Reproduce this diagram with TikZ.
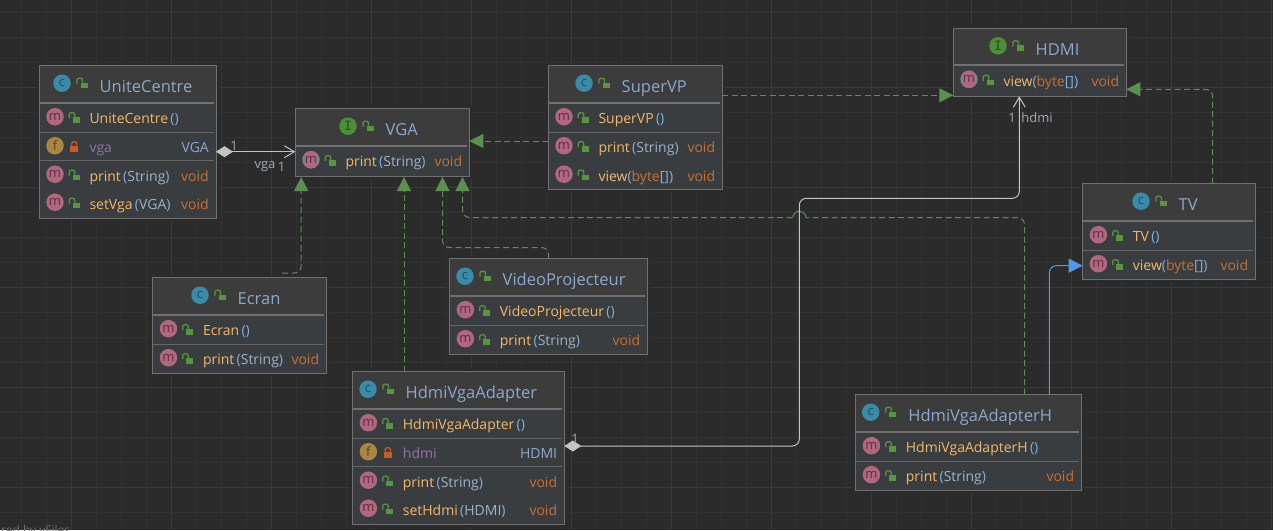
\documentclass[tikz,border=0pt]{standalone}
\usepackage{fontspec}
\setmainfont{Open Sans}
\newfontfamily\slabfont{DejaVu Sans Mono}
\usetikzlibrary{arrows.meta}

\definecolor{canvas}{HTML}{2B2B2B}
\definecolor{gridminor}{HTML}{323232}
\definecolor{gridmajor}{HTML}{3A3A3A}
\definecolor{headfill}{HTML}{3C3C3C}
\definecolor{rowfill}{HTML}{3A3D40}
\definecolor{boxline}{HTML}{707070}
\definecolor{rowline}{HTML}{666666}
\definecolor{titlecol}{HTML}{8CA8CC}
\definecolor{methodcol}{HTML}{F5B868}
\definecolor{parencol}{HTML}{7FB0E0}
\definecolor{argcol}{HTML}{9DB2C8}
\definecolor{typecol}{HTML}{C8702F}
\definecolor{fieldcol}{HTML}{8F73A8}
\definecolor{labelcol}{HTML}{A2A9B0}
\definecolor{lockgreen}{HTML}{56963F}
\definecolor{lockred}{HTML}{C75B2A}
\definecolor{realgreen}{HTML}{5B9150}
\definecolor{assocgrey}{HTML}{C4C4C4}
\definecolor{assocblue}{HTML}{5297E8}
\definecolor{iconcfill}{HTML}{3A8BA8}
\definecolor{iconcdark}{HTML}{1D4E63}
\definecolor{iconifill}{HTML}{4E8E38}
\definecolor{iconidark}{HTML}{274F1C}
\definecolor{iconmfill}{HTML}{B0677F}
\definecolor{iconmdark}{HTML}{5E2E40}
\definecolor{iconffill}{HTML}{A98742}
\definecolor{iconfdark}{HTML}{57431C}
\definecolor{iconafill}{HTML}{7C8185}

\tikzset{
    classbody/.style={draw=boxline, fill=headfill, line width=1pt, anchor=north west, inner sep=0pt, outer sep=0pt},
    titletext/.style={anchor=west, inner sep=0pt, text=titlecol, font=\fontsize{16.5}{18}\selectfont, text height=11.5pt, text depth=3.5pt},
    membertext/.style={anchor=west, inner sep=0pt, text=methodcol, font=\fontsize{14}{16}\selectfont, text height=10pt, text depth=3.5pt},
    typetext/.style={anchor=east, inner sep=0pt, text=typecol, font=\fontsize{14}{16}\selectfont, text height=10pt, text depth=3.5pt},
    edgetext/.style={inner sep=0pt, text=labelcol, font=\fontsize{13}{15}\selectfont},
    iconbase/.style={circle, inner sep=0pt, minimum size=17.5pt, font=\fontsize{13}{13}\selectfont},
    iconc/.style={iconbase, fill=iconcfill, text=iconcdark},
    iconi/.style={iconbase, fill=iconifill, text=iconidark},
    iconm/.style={iconbase, fill=iconmfill, text=iconmdark},
    iconf/.style={iconbase, fill=iconffill, text=iconfdark},
    iconabs/.style={iconbase, fill=iconafill, text=iconmdark, path picture={\fill[iconmfill, rounded corners=2pt] ([xshift=-5.5pt,yshift=-9pt]path picture bounding box.center) rectangle ([xshift=5.5pt,yshift=9pt]path picture bounding box.center);}},
    realline/.style={draw=realgreen, line width=1pt, dash pattern=on 6pt off 3.5pt, rounded corners=7pt},
    realizes/.style={realline, -{Triangle[length=14pt,width=14pt,fill=realgreen]}},
    holds/.style={draw=assocgrey, line width=1pt, rounded corners=7pt, {Diamond[length=17pt,width=11pt,fill=assocgrey]}-{Straight Barb[length=10pt,width=12pt]}},
    extendsto/.style={draw=assocblue, line width=1pt, rounded corners=7pt, -{Triangle[length=14pt,width=14pt,fill=assocblue]}},
    lockopen/.pic={
        \fill[lockgreen] (-1.5,-0.5) rectangle (5.5,5);
        \draw[lockgreen, line width=1.3pt, rounded corners=2pt] (-5,0.5) -- (-5,-5) -- (0.5,-5) -- (0.5,-0.5);
    },
    lockshut/.pic={
        \fill[lockred] (-4,-1) rectangle (4,5);
        \draw[lockred, line width=1.3pt, rounded corners=2pt] (-2.5,-1) -- (-2.5,-5) -- (2.5,-5) -- (2.5,-1);
    }
}

% id, x, y, width, height, icon style, icon letter, icon x, title
\newcommand{\umlclass}[9]{
    \fill[canvas] (#2-3,#3-3) rectangle (#2+#4+3,#3+#5+3);
    \node[classbody, minimum width=#4pt, minimum height=#5pt] (#1) at (#2,#3) {};
    \fill[rowfill] ([shift={(0.5pt,-37pt)}]#1.north west) rectangle ([shift={(-0.5pt,0.5pt)}]#1.south east);
    \fill[boxline] ([shift={(0.5pt,-36pt)}]#1.north west) rectangle ([shift={(-2pt,-38pt)}]#1.north east);
    \node[#6] (#1icon) at (#8,#3+17.5) {#7};
    \pic at (#8+20,#3+17.5) {lockopen};
    \node[titletext] (#1title) at (#8+37.5,#3+23) {#9};
}
% box, row, icon style, icon letter, lock, text, type on the right
\newcommand{\umlmember}[7]{
    \pgfmathsetmacro\rowy{{51,80,108.5,136.5}[#2-1]}
    \node[#3] (#1icon#2) at ([shift={(15.7pt,-\rowy pt)}]#1.north west) {#4};
    \pic at ([shift={(35pt,-\rowy-1 pt)}]#1.north west) {#5};
    \node[membertext] (#1text#2) at ([shift={(50pt,-\rowy-4 pt)}]#1.north west) {#6};
    \if\relax\detokenize{#7}\relax\else
        \node[typetext] (#1type#2) at ([shift={(-7pt,-\rowy-4 pt)}]#1.north east) {#7};
    \fi
}
\newcommand{\umlrule}[2]{
    \draw[rowline, line width=1pt] ([shift={(0.5pt,-#2pt)}]#1.north west) -- ([shift={(-2pt,-#2pt)}]#1.north east);
}
\newcommand{\prm}[1]{\textcolor{parencol}{\,(}\textcolor{argcol}{#1}\textcolor{parencol}{)}}
\newcommand{\noprm}{\textcolor{parencol}{\,()}}
\newcommand{\bytes}{\textcolor{parencol}{(}\textcolor{typecol}{byte}\textcolor{parencol}{[])}}

\begin{document}
\begin{tikzpicture}[x=1pt, y=-1pt]
    \useasboundingbox (0,0) rectangle (1273,530);
    \fill[canvas] (0,0) rectangle (1273,530);

    \foreach \x in {0, ..., 51}
        \draw[gridminor, line width=1pt] (-3.5+25*\x,0) -- (-3.5+25*\x,530);
    \foreach \y in {0, ..., 21}
        \draw[gridminor, line width=1pt] (0,12+25*\y) -- (1273,12+25*\y);
    \foreach \x in {0, ..., 12}
        \draw[gridmajor, line width=1pt] (71.5+100*\x,0) -- (71.5+100*\x,530);
    \foreach \y in {0, ..., 4}
        \draw[gridmajor, line width=1pt] (0,87+100*\y) -- (1273,87+100*\y);

    \node[anchor=west, inner sep=0pt, text=gray!80!canvas, font=\fontsize{12}{14}\selectfont] (yfiles) at (1,531) {red by yFiles};

    \umlclass{unite}{39.3}{65.7}{176.7}{152.3}{iconc}{c}{62}{UniteCentre}
    \umlmember{unite}{1}{iconm}{m}{lockopen}{UniteCentre\noprm}{}
    \umlmember{unite}{2}{iconf}{f}{lockshut}{\textcolor{fieldcol}{vga}}{\textcolor{titlecol}{VGA}}
    \umlmember{unite}{3}{iconm}{m}{lockopen}{print\prm{String}}{void}
    \umlmember{unite}{4}{iconm}{m}{lockopen}{setVga\prm{VGA}}{void}
    \umlrule{unite}{66.6}
    \umlrule{unite}{94.6}

    \umlclass{vga}{295.3}{108.7}{174}{67.6}{iconi}{\slabfont I}{348}{VGA}
    \umlmember{vga}{1}{iconabs}{m}{lockopen}{print\prm{String}}{void}

    \umlclass{super}{548.3}{65.7}{174}{123.6}{iconc}{c}{584}{SuperVP}
    \umlmember{super}{1}{iconm}{m}{lockopen}{SuperVP\noprm}{}
    \umlmember{super}{2}{iconm}{m}{lockopen}{print\prm{String}}{void}
    \umlmember{super}{3}{iconm}{m}{lockopen}{view\bytes}{void}
    \umlrule{super}{66.6}

    \umlclass{hdmi}{953.3}{28.3}{173}{68}{iconi}{\slabfont I}{998}{HDMI}
    \umlmember{hdmi}{1}{iconabs}{m}{lockopen}{view\bytes}{void}

    \umlclass{tv}{1082.7}{183.7}{172.6}{95.3}{iconc}{c}{1141}{TV}
    \umlmember{tv}{1}{iconm}{m}{lockopen}{TV\noprm}{}
    \umlmember{tv}{2}{iconm}{m}{lockopen}{view\bytes}{void}
    \umlrule{tv}{66.6}

    \umlclass{ecran}{152.8}{277.7}{173.5}{95.6}{iconc}{c}{200}{Ecran}
    \umlmember{ecran}{1}{iconm}{m}{lockopen}{Ecran\noprm}{}
    \umlmember{ecran}{2}{iconm}{m}{lockopen}{print\prm{String}}{void}
    \umlrule{ecran}{66.6}

    \umlclass{video}{449.7}{258.7}{197.7}{95.3}{iconc}{c}{465}{VideoProjecteur}
    \umlmember{video}{1}{iconm}{m}{lockopen}{VideoProjecteur\noprm}{}
    \umlmember{video}{2}{iconm}{m}{lockopen}{print\prm{String}}{void}
    \umlrule{video}{66.6}

    \umlclass{adapter}{352.7}{371.7}{211.6}{152.3}{iconc}{c}{368}{HdmiVgaAdapter}
    \umlmember{adapter}{1}{iconm}{m}{lockopen}{HdmiVgaAdapter\noprm}{}
    \umlmember{adapter}{2}{iconf}{f}{lockshut}{\textcolor{fieldcol}{hdmi}}{\textcolor{titlecol}{HDMI}}
    \umlmember{adapter}{3}{iconm}{m}{lockopen}{print\prm{String}}{void}
    \umlmember{adapter}{4}{iconm}{m}{lockopen}{setHdmi\prm{HDMI}}{void}
    \umlrule{adapter}{66.6}
    \umlrule{adapter}{94.6}

    \umlclass{adapterh}{855.7}{394.7}{225.6}{95.3}{iconc}{c}{870.7}{HdmiVgaAdapterH}
    \umlmember{adapterh}{1}{iconm}{m}{lockopen}{HdmiVgaAdapterH\noprm}{}
    \umlmember{adapterh}{2}{iconm}{m}{lockopen}{print\prm{String}}{void}
    \umlrule{adapterh}{66.6}

    \coordinate (ecranout) at (282,273);
    \coordinate (ecranin) at (301.2,177);
    \coordinate (adapterin) at (404,177);
    \coordinate (adapterout) at (404,371.7);
    \coordinate (videoin) at (442.5,177);
    \coordinate (videoout) at (548.5,258.7);
    \coordinate (hin) at (462.5,177);
    \coordinate (hout) at (1024.5,394.7);
    \coordinate (bridgeright) at (806,217.5);
    \coordinate (bridgeleft) at (792.7,217.5);

    \draw[realizes] (ecranout) -| (ecranin);                                       %  Ecran -- VGA
    \draw[realizes] (adapterout) -- (adapterin);                                   %  HdmiVgaAdapter -- VGA
    \draw[realizes] (videoout) |- (500,247.5) -| (videoin);                        %  VideoProjecteur -- VGA
    \draw[realline] (hout) |- (bridgeright);                                       %  HdmiVgaAdapterH -- bridge
    \draw[realizes] (bridgeleft) -| (hin);                                         %  bridge -- VGA
    \draw[draw=realgreen, line width=1pt] (bridgeright) .. controls (805,209) and (794,209) .. (bridgeleft);
    \draw[realizes] ([yshift=-75.3pt]super.north west) -- ([yshift=-32.3pt]vga.north east);  %  SuperVP -- VGA
    \draw[realizes] ([yshift=-29.6pt]super.north east) -- ([yshift=-67pt]hdmi.north west);   %  SuperVP -- HDMI
    \draw[realizes] ([xshift=130pt]tv.north west) |- ([yshift=-61pt]hdmi.north east);        %  TV -- HDMI
    \draw[extendsto] ([xshift=193.6pt]adapterh.north west) |- ([yshift=-82pt]tv.north west); %  HdmiVgaAdapterH -- TV

    \draw[holds] ([yshift=-86pt]unite.north east) -- ([yshift=-43pt]vga.north west);         %  UniteCentre -- VGA
    \draw[holds] ([yshift=-74.3pt]adapter.north east) -| (799.3,198.3) -| ([xshift=66pt]hdmi.south west); %  HdmiVgaAdapter -- HDMI

    \node[edgetext] (unitemult) at (234,145.5) {1};
    \node[edgetext] (vgarole) at (265,166.5) {vga};
    \node[edgetext] (vgamult) at (281.5,166.5) {1};
    \node[edgetext] (adaptermult) at (575,439) {1};
    \node[edgetext] (hdmimult) at (1012,118) {1};
    \node[edgetext] (hdmirole) at (1037,118) {hdmi};
\end{tikzpicture}
\end{document}
